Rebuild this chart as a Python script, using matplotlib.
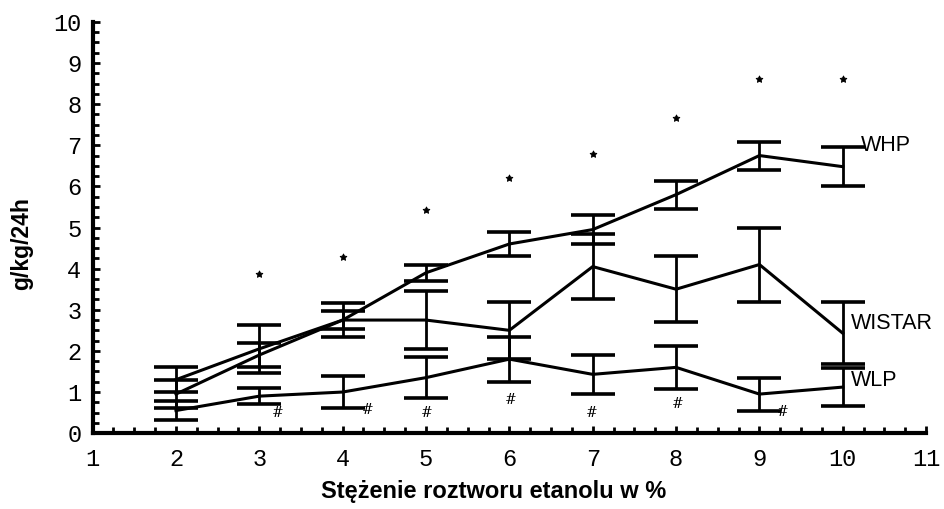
import matplotlib.pyplot as plt
from matplotlib.ticker import MultipleLocator

# ethanol concentration (%)
conc = [2, 3, 4, 5, 6, 7, 8, 9, 10]

# mean intake g/kg/24h and error (half length of bar)
whp = [1.3, 2.05, 2.75, 3.9, 4.6, 4.95, 5.8, 6.75, 6.48]
whp_err = [0.3, 0.58, 0.42, 0.2, 0.3, 0.35, 0.34, 0.34, 0.48]

wistar = [0.95, 1.9, 2.75, 2.75, 2.5, 4.05, 3.5, 4.1, 2.43]
wistar_err = [0.35, 0.3, 0.22, 0.7, 0.7, 0.8, 0.8, 0.9, 0.75]

wlp = [0.55, 0.9, 1.0, 1.35, 1.8, 1.43, 1.6, 0.95, 1.12]
wlp_err = [0.22, 0.2, 0.4, 0.5, 0.55, 0.47, 0.53, 0.4, 0.46]

# significance marks
star_x = [3, 4, 5, 6, 7, 8, 9, 10]
star_y = [3.87, 4.28, 5.43, 6.2, 6.79, 7.66, 8.61, 8.61]
hash_x = [3.22, 4.3, 5.01, 6.02, 6.99, 8.02, 9.28]
hash_y = [0.49, 0.56, 0.49, 0.8, 0.49, 0.7, 0.51]

labels = ["WHP", "WISTAR", "WLP"]
label_xy = [(10.22, 7.0), (10.1, 2.67), (10.1, 1.27)]

fig = plt.figure(figsize=(9.45, 5.09), dpi=100)
ax = fig.add_axes([0.098, 0.149, 0.882, 0.808])

for m, e in [(whp, whp_err), (wistar, wistar_err), (wlp, wlp_err)]:
    ax.errorbar(conc, m, yerr=e, color='black', linewidth=2.2,
                elinewidth=2.0, capsize=16, capthick=2.6)

ax.scatter(star_x, star_y, marker=(5, 1), s=26, color='black', linewidths=0.6)
for x, y in zip(hash_x, hash_y):
    ax.text(x, y, '#', ha='center', va='center', fontsize=10,
            family='DejaVu Serif')

for t, (x, y) in zip(labels, label_xy):
    ax.text(x, y, t, ha='left', va='center', fontsize=15.5,
            family='Liberation Sans')

ax.set_xlim(1, 11)
ax.set_ylim(0, 10)
ax.xaxis.set_major_locator(MultipleLocator(1))
ax.yaxis.set_major_locator(MultipleLocator(1))
ax.xaxis.set_minor_locator(MultipleLocator(0.25))
ax.yaxis.set_minor_locator(MultipleLocator(0.25))
ax.tick_params(which='both', direction='in', width=2, color='black')
ax.tick_params(which='major', length=5, labelsize=17)
ax.tick_params(axis='x', which='major', pad=11)
ax.tick_params(axis='y', which='major', pad=8)
ax.tick_params(which='minor', length=4)
for lab in ax.get_xticklabels() + ax.get_yticklabels():
    lab.set_family('Liberation Mono')

for s in ['top', 'right']:
    ax.spines[s].set_visible(False)
for s in ['left', 'bottom']:
    ax.spines[s].set_linewidth(3)

ax.set_xlabel('Stężenie roztworu etanolu w %', fontsize=17, fontweight='bold',
              family='Liberation Sans', va='center')
ax.set_ylabel('g/kg/24h', fontsize=16.5, fontweight='bold',
              family='Liberation Sans', va='center')
ax.xaxis.set_label_coords(0.481, -0.143)
ax.yaxis.set_label_coords(-0.085, 0.462)

fig.savefig('out.png', dpi=100)
